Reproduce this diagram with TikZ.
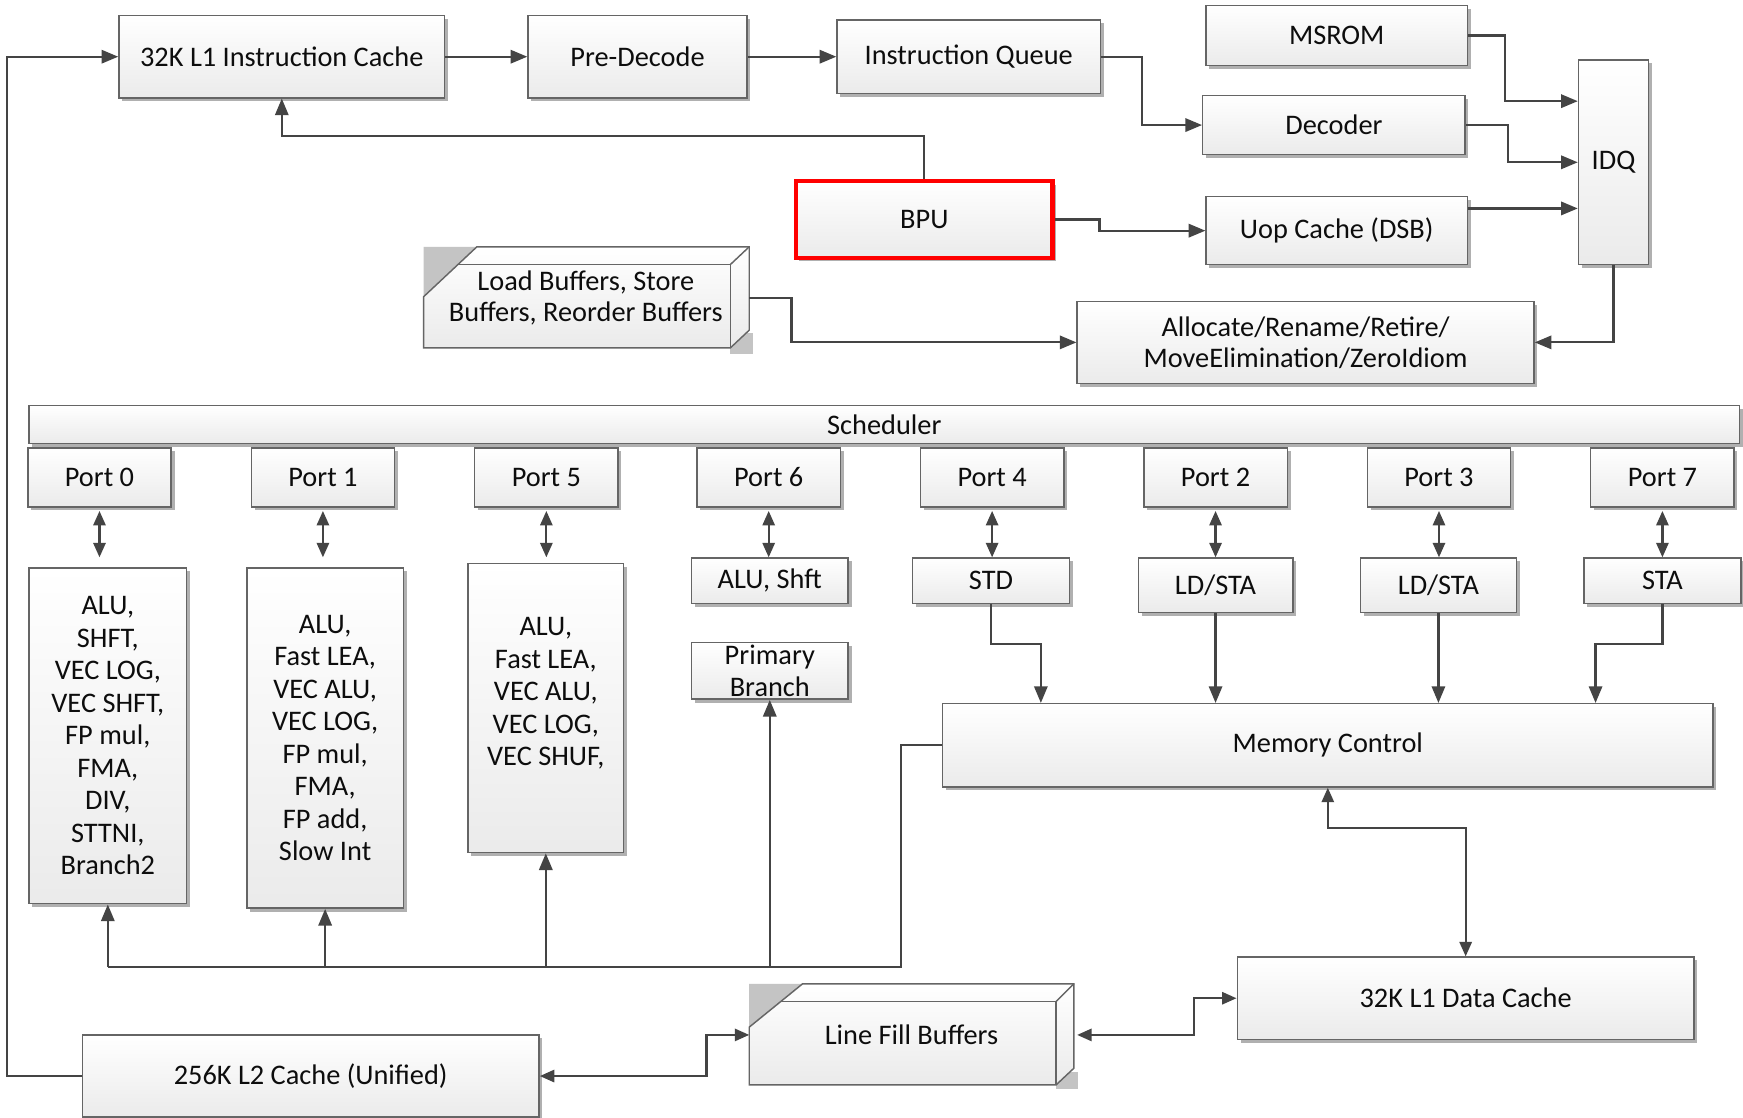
\documentclass[tikz,border=0pt]{standalone}
\usepackage{fontspec}
\setmainfont{Carlito}
\usetikzlibrary{arrows.meta,shadows,calc}
\definecolor{ln}{HTML}{444444}
\definecolor{bd}{HTML}{656565}
\definecolor{sh}{HTML}{B0B0B0}
\definecolor{gr}{HTML}{C4C4C4}
\begin{document}
\begin{tikzpicture}[x=1pt,y=-1pt,
 blk/.style={draw=bd, line width=1.3pt, top color=white, bottom color=black!8,
   drop shadow={shadow xshift=3pt,shadow yshift=-3pt,fill=sh,opacity=1},
   font=\fontsize{25.5}{29.25}\selectfont, text=black!95, align=center, inner sep=1pt},
 txt/.style={font=\fontsize{25.5}{28}\selectfont, text=black!95, align=center, inner sep=0pt},
 conn/.style={draw=ln, line width=2pt, -{Triangle[length=15pt,width=12pt]}},
 dbl/.style={draw=ln, line width=2pt, {Triangle[length=13pt,width=11pt]}-{Triangle[length=13pt,width=11pt]}},
 wire/.style={draw=ln, line width=2pt},
 face/.style={draw=bd, line width=1.3pt}]
\useasboundingbox (0,0) rectangle (1568,1005);
\clip (0,0) rectangle (1568,1005);
\fill[white] (0,0) rectangle (1568,1005);

% top row
\node[blk, minimum width=293pt, minimum height=74pt] (l1ic) at (253.5,51) {32K L1 Instruction Cache};
\node[blk, minimum width=197pt, minimum height=74pt] (pre) at (573.5,51) {Pre-Decode};
\node[blk, minimum width=237pt, minimum height=66pt] (iq) at (871.5,51) {Instruction Queue};
\node[blk, minimum width=235pt, minimum height=54pt] (msrom) at (1202.5,32) {MSROM};
\node[blk, minimum width=236pt, minimum height=53pt] (dec) at (1200,112.5) {Decoder};
\node[blk, minimum width=235pt, minimum height=61pt] (uop) at (1202.5,207.5) {Uop Cache (DSB)};
\node[blk, minimum width=63pt, minimum height=184pt] (idq) at (1451.5,146) {IDQ};
\node[blk, draw=red, line width=4pt, minimum width=231pt, minimum height=69pt] (bpu) at (831.5,197.5) {BPU};
\node[blk, minimum width=411pt, minimum height=74pt] (alloc) at (1174.5,308) {Allocate/Rename/Retire/\\[-1.25pt]MoveElimination/ZeroIdiom};

% Load buffers 3D box
\fill[gr] (657,300) rectangle (677,318);
\fill[gr] (381,222) -- (429,222) -- (381,267) -- cycle;
\shade[top color=white, bottom color=black!8] (381,313) -- (381,267) -- (429,222) -- (674,222) -- (674,297) -- (657,313) -- cycle;
\draw[face] (381,313) -- (381,267) -- (429,222) -- (674,222) -- (674,297) -- (657,313) -- cycle;
\draw[face] (412,238) -- (657,238) -- (657,313);
\draw[face] (657,238) -- (674,222);
\node[txt] (lb) at (527,268) {Load Buffers, Store\\Buffers, Reorder Buffers};
\coordinate (lbR) at (674,268);

% scheduler and ports
\node[blk, minimum width=1539pt, minimum height=34pt] (sched) at (795.5,382) {Scheduler};
\node[blk, minimum width=129pt, minimum height=53pt] (p0) at (89.5,429.5) {Port 0};
\node[blk, minimum width=129pt, minimum height=53pt] (p1) at (290.5,429.5) {Port 1};
\node[blk, minimum width=129pt, minimum height=53pt] (p5) at (491.5,429.5) {Port 5};
\node[blk, minimum width=129pt, minimum height=53pt] (p6) at (691.5,429.5) {Port 6};
\node[blk, minimum width=129pt, minimum height=53pt] (p4) at (892.5,429.5) {Port 4};
\node[blk, minimum width=129pt, minimum height=53pt] (p2) at (1093.5,429.5) {Port 2};
\node[blk, minimum width=129pt, minimum height=53pt] (p3) at (1294.5,429.5) {Port 3};
\node[blk, minimum width=129pt, minimum height=53pt] (p7) at (1495.5,429.5) {Port 7};

% execution units
\node[blk, minimum width=142pt, minimum height=302pt] (u0) at (97,662) {ALU,\\SHFT,\\VEC LOG,\\VEC SHFT,\\FP mul,\\FMA,\\DIV,\\STTNI,\\Branch2};
\node[blk, minimum width=141pt, minimum height=306pt] (u1) at (292.5,664) {ALU,\\Fast LEA,\\VEC ALU,\\VEC LOG,\\FP mul,\\FMA,\\FP add,\\Slow Int};
\node[blk, minimum width=140pt, minimum height=260pt] (u5) at (491,637) {ALU,\\Fast LEA,\\VEC ALU,\\VEC LOG,\\VEC SHUF,\\~};
\node[blk, minimum width=141pt, minimum height=41pt] (alush) at (692.5,522.5) {ALU, Shft};
\node[blk, minimum width=141pt, minimum height=51pt] (pb) at (692.5,603.5) {Primary\\Branch};
\node[blk, minimum width=141pt, minimum height=41pt] (std) at (891.5,522.5) {STD};
\node[blk, minimum width=139pt, minimum height=49pt] (ld2) at (1093.5,526.5) {LD/STA};
\node[blk, minimum width=140pt, minimum height=49pt] (ld3) at (1294,526.5) {LD/STA};
\node[blk, minimum width=141pt, minimum height=41pt] (sta) at (1495.5,522.5) {STA};

% memory
\node[blk, minimum width=693pt, minimum height=75pt] (mc) at (1194.5,670.5) {Memory Control};
\node[blk, minimum width=411pt, minimum height=74pt] (l1d) at (1318.5,898) {32K L1 Data Cache};
\node[blk, minimum width=411pt, minimum height=74pt] (l2) at (279.5,968) {256K L2 Cache (Unified)};

% Line fill buffers 3D box
\fill[gr] (950,964) rectangle (970,980);
\fill[gr] (674,885) -- (722,885) -- (674,924) -- cycle;
\shade[top color=white, bottom color=black!8] (674,976) -- (674,924) -- (722,885) -- (966,885) -- (966,961) -- (950,976) -- cycle;
\draw[face] (674,976) -- (674,924) -- (722,885) -- (966,885) -- (966,961) -- (950,976) -- cycle;
\draw[face] (702,901) -- (950,901) -- (950,976);
\draw[face] (950,901) -- (966,885);
\node[txt] (lfb) at (820,931) {Line Fill Buffers};
\coordinate (lfbR) at (969,931);
\coordinate (lfbL) at (674,931);

% front-end connectors
\draw[conn] (l1ic) -- (pre);
\draw[conn] (pre) -- (iq);
\draw[conn] (iq.east) -- ++(37,0) |- (dec.west);
\draw[conn] (msrom.east) -- ++(33,0) |- ([yshift=55pt]idq.west);
\draw[conn] (dec.east) -- ++(38,0) |- (idq.west);
\coordinate (ua) at ([yshift=20pt]uop.east);
\draw[conn] (ua) -- (ua -| idq.west);
\draw[conn] (idq.south) |- (alloc.east);
\draw[conn] (bpu.north) -- ++(0,-39) -| (l1ic.south);
\draw[conn] (bpu.east) -- ++(40,0) |- (uop.west);
\draw[conn] (lbR) -- ++(38,0) |- (alloc.west);

% ports to units
\draw[dbl, shorten <=3pt, shorten >=9pt] (p0.south) -- (p0.south |- u0.north);
\draw[dbl, shorten <=3pt, shorten >=9pt] (p1.south) -- (p1.south |- u1.north);
\draw[dbl, shorten <=3pt, shorten >=5pt] (p5.south) -- (p5.south |- u5.north);
\draw[dbl, shorten <=3pt] (p6.south) -- (p6.south |- alush.north);
\draw[dbl, shorten <=3pt] (p4.south) -- (p4.south |- std.north);
\draw[dbl, shorten <=3pt] (p2.south) -- (p2.south |- ld2.north);
\draw[dbl, shorten <=3pt] (p3.south) -- (p3.south |- ld3.north);
\draw[dbl, shorten <=3pt] (p7.south) -- (p7.south |- sta.north);

% to memory control
\draw[conn] (std.south) -- ++(0,36) -| ([xshift=89pt]mc.north west);
\draw[conn] (ld2.south) -- (ld2.south |- mc.north);
\draw[conn] (ld3.south) -- (ld3.south |- mc.north);
\draw[conn] (sta.south) -- ++(0,36) -| ([xshift=588pt]mc.north west);

% bus from memory control
\coordinate (bus) at (810.5,870);
\draw[wire] (mc.west) -| (bus) -- (bus -| u0.south);
\draw[conn] (bus -| u0.south) -- (u0.south);
\draw[conn] (bus -| u1.south) -- (u1.south);
\draw[conn] (bus -| u5.south) -- (u5.south);
\draw[conn] (bus -| pb.south) -- (pb.south);

% memory hierarchy
\draw[dbl] (mc.south) -- ++(0,36) -| (l1d.north);
\draw[dbl] (lfbR) -- ++(105,0) |- (l1d.west);
\draw[dbl] (l2.east) -- ++(150,0) |- (lfbL);
\draw[conn] (l2.west) -- ++(-67,0) |- (l1ic.west);
\end{tikzpicture}
\end{document}
